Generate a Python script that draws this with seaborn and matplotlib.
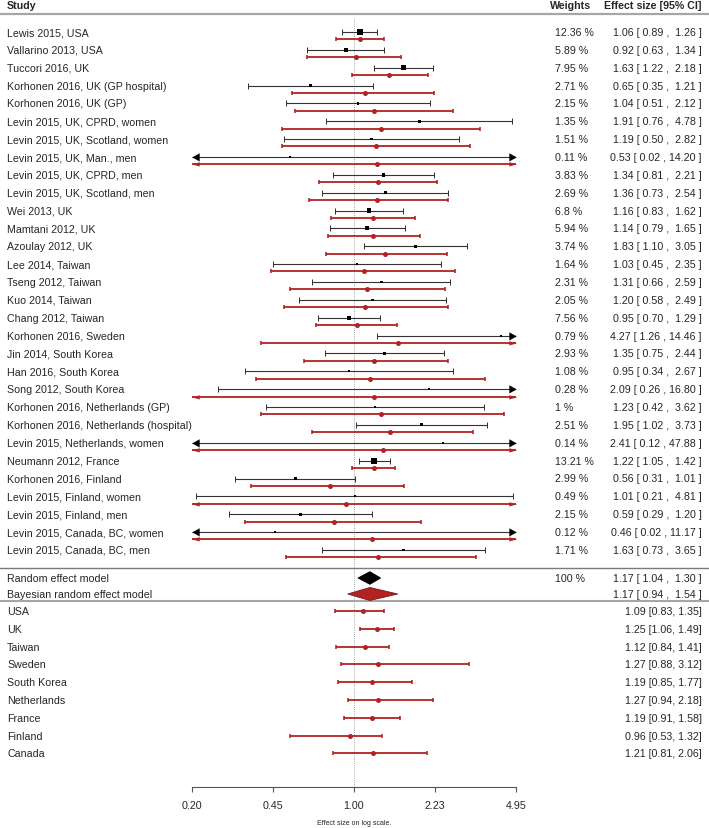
import numpy as np
import pandas as pd
import matplotlib
matplotlib.use("Agg")
import matplotlib.pyplot as plt
import seaborn as sns
from matplotlib.transforms import blended_transform_factory

# -----------------------------
# Data
# -----------------------------
studies = [
    "Lewis 2015, USA", "Vallarino 2013, USA", "Tuccori 2016, UK",
    "Korhonen 2016, UK (GP hospital)", "Korhonen 2016, UK (GP)",
    "Levin 2015, UK, CPRD, women", "Levin 2015, UK, Scotland, women",
    "Levin 2015, UK, Man., men", "Levin 2015, UK, CPRD, men",
    "Levin 2015, UK, Scotland, men", "Wei 2013, UK", "Mamtani 2012, UK",
    "Azoulay 2012, UK", "Lee 2014, Taiwan", "Tseng 2012, Taiwan",
    "Kuo 2014, Taiwan", "Chang 2012, Taiwan", "Korhonen 2016, Sweden",
    "Jin 2014, South Korea", "Han 2016, South Korea", "Song 2012, South Korea",
    "Korhonen 2016, Netherlands (GP)", "Korhonen 2016, Netherlands (hospital)",
    "Levin 2015, Netherlands, women", "Neumann 2012, France",
    "Korhonen 2016, Finland", "Levin 2015, Finland, women",
    "Levin 2015, Finland, men", "Levin 2015, Canada, BC, women",
    "Levin 2015, Canada, BC, men",
]
weights = [12.36, 5.89, 7.95, 2.71, 2.15, 1.35, 1.51, 0.11, 3.83, 2.69,
           6.8, 5.94, 3.74, 1.64, 2.31, 2.05, 7.56, 0.79, 2.93, 1.08,
           0.28, 1, 2.51, 0.14, 13.21, 2.99, 0.49, 2.15, 0.12, 1.71]
est = [1.06, 0.92, 1.63, 0.65, 1.04, 1.91, 1.19, 0.53, 1.34, 1.36,
       1.16, 1.14, 1.83, 1.03, 1.31, 1.20, 0.95, 4.27, 1.35, 0.95,
       2.09, 1.23, 1.95, 2.41, 1.22, 0.56, 1.01, 0.59, 0.46, 1.63]
lo = [0.89, 0.63, 1.22, 0.35, 0.51, 0.76, 0.50, 0.02, 0.81, 0.73,
      0.83, 0.79, 1.10, 0.45, 0.66, 0.58, 0.70, 1.26, 0.75, 0.34,
      0.26, 0.42, 1.02, 0.12, 1.05, 0.31, 0.21, 0.29, 0.02, 0.73]
hi = [1.26, 1.34, 2.18, 1.21, 2.12, 4.78, 2.82, 14.20, 2.21, 2.54,
      1.62, 1.65, 3.05, 2.35, 2.59, 2.49, 1.29, 14.46, 2.44, 2.67,
      16.80, 3.62, 3.73, 47.88, 1.42, 1.01, 4.81, 1.20, 11.17, 3.65]

# Bayesian (shrunken) study estimates, read off the red marks
bayes_est = [1.06, 1.02, 1.41, 1.11, 1.22, 1.30, 1.24, 1.25, 1.27, 1.26,
             1.21, 1.21, 1.36, 1.10, 1.14, 1.12, 1.03, 1.54, 1.22, 1.17,
             1.22, 1.30, 1.42, 1.33, 1.22, 0.79, 0.92, 0.82, 1.20, 1.27]
bayes_lo = [0.84, 0.63, 0.98, 0.54, 0.56, 0.49, 0.49, 0.15, 0.71, 0.64,
            0.80, 0.77, 0.76, 0.44, 0.53, 0.50, 0.69, 0.40, 0.61, 0.38,
            0.16, 0.40, 0.66, 0.15, 0.98, 0.36, 0.18, 0.34, 0.16, 0.51]
bayes_hi = [1.35, 1.59, 2.07, 2.21, 2.66, 3.48, 3.14, 10.5, 2.27, 2.54,
            1.82, 1.91, 2.51, 2.72, 2.46, 2.52, 1.53, 6.2, 2.53, 3.64,
            9.4, 4.41, 3.24, 11.2, 1.50, 1.64, 5.3, 1.93, 9.0, 3.35]

pooled_re = (1.17, 1.04, 1.30)
pooled_bayes = (1.17, 0.94, 1.54)

countries = ["USA", "UK", "Taiwan", "Sweden", "South Korea", "Netherlands",
             "France", "Finland", "Canada"]
c_est = [1.09, 1.25, 1.12, 1.27, 1.19, 1.27, 1.19, 0.96, 1.21]
c_lo = [0.83, 1.06, 0.84, 0.88, 0.85, 0.94, 0.91, 0.53, 0.81]
c_hi = [1.35, 1.49, 1.41, 3.12, 1.77, 2.18, 1.58, 1.32, 2.06]

tick_vals = np.exp([-1.6, -0.8, 0.0, 0.8, 1.6])

# -----------------------------
# Layout (pixel units, y grows downward)
# -----------------------------
W, H = 709, 829
RED = "#b22222"
DARK = "#333333"
X0, X1 = tick_vals[0], tick_vals[-1]
AX_BOTTOM = 788

df = pd.DataFrame({"study": studies, "w": weights, "est": est, "lo": lo, "hi": hi,
                   "b_est": bayes_est, "b_lo": bayes_lo, "b_hi": bayes_hi})
df["y"] = 33 + 17.86 * np.arange(len(df))
df["yb"] = df["y"] + 7.3
cdf = pd.DataFrame({"country": countries, "est": c_est, "lo": c_lo, "hi": c_hi})
cdf["y"] = 612 + 17.8 * np.arange(len(cdf))
y_re, y_bayes = 579, 595

sns.set_theme(style="white")
plt.rcParams["font.family"] = ["Liberation Sans", "DejaVu Sans"]
FS = 7.7

fig = plt.figure(figsize=(W / 100, H / 100), dpi=100)
ax = fig.add_axes([192 / W, (H - AX_BOTTOM) / H, 324 / W, AX_BOTTOM / H])
ax.set_xscale("log")

TRI_L = [(0, 0), (0.9, 0.5), (0.9, -0.5)]
TRI_R = [(0, 0), (-0.9, 0.5), (-0.9, -0.5)]
NAR_L = [(0, 0), (1, 0.28), (1, -0.28)]
NAR_R = [(0, 0), (-1, 0.28), (-1, -0.28)]


def draw_ci(y, l, h, color, lw, cap, big):
    a, b = max(l, X0), min(h, X1)
    ax.plot([a, b], [y, y], color=color, lw=lw, solid_capstyle="butt", zorder=2)
    for v, edge, out in ((l, X0, l < X0), (h, X1, h > X1)):
        if out:
            verts = (TRI_L if edge == X0 else TRI_R) if big else (NAR_L if edge == X0 else NAR_R)
            head = "black" if big else color
            ax.plot([edge], [y], marker=verts, ms=10, color=head, mec=head,
                    mew=0.3, zorder=3, clip_on=False)
        else:
            ax.plot([v], [y], marker="|", ms=cap, mew=lw * 0.9, color=color, zorder=2)


for r in df.itertuples():
    draw_ci(r.y, r.lo, r.hi, DARK, 0.8, 4.3, True)
    draw_ci(r.yb, r.b_lo, r.b_hi, RED, 1.3, 3.0, False)
for r in cdf.itertuples():
    draw_ci(r.y, r.lo, r.hi, RED, 1.3, 3.0, False)

sns.scatterplot(data=df, x="est", y="y", size="w", sizes=(1.5, 17), size_norm=(0, 13.21),
                marker="s", color="black", linewidth=0, legend=False, ax=ax, zorder=4)
sns.scatterplot(data=df, x="b_est", y="yb", color=RED, s=13, linewidth=0,
                legend=False, ax=ax, zorder=4)
sns.scatterplot(data=cdf, x="est", y="y", color=RED, s=13, linewidth=0,
                legend=False, ax=ax, zorder=4)

# pooled diamonds
for (e, l, h), y, half, fc, ec in ((pooled_re, y_re, 6.3, "black", "black"),
                                   (pooled_bayes, y_bayes, 6.5, RED, "#7a1515")):
    ax.fill([l, e, h, e], [y, y - half, y, y + half], facecolor=fc, edgecolor=ec,
            lw=0.6, zorder=4)

# reference line at 1
ax.plot([1, 1], [20, AX_BOTTOM], ls=(0, (1, 1.5)), color="#8a8a8a", lw=0.6, zorder=1)

ax.set_xlim(X0, X1)
ax.set_ylim(AX_BOTTOM, 0)
ax.set_xticks(tick_vals)
ax.set_xticklabels([f"{t:.2f}" for t in tick_vals], fontsize=FS)
ax.minorticks_off()
ax.set_yticks([])
ax.set_xlabel("")
ax.set_ylabel("")
for s in ("top", "left", "right"):
    ax.spines[s].set_visible(False)
ax.spines["bottom"].set_color("#555555")
ax.spines["bottom"].set_linewidth(0.8)
ax.tick_params(axis="x", direction="out", length=3.6, width=0.8, color="#555555",
               pad=6, bottom=True)
ax.patch.set_alpha(0)

fig.text(354 / W, 1 - 824 / H, "Effect size on log scale.", fontsize=5,
         ha="center", va="center")

# text columns
tr = blended_transform_factory(fig.transFigure, ax.transData)


def put(xpx, y, s, ha="left", bold=False):
    ax.text(xpx / W, y, s, transform=tr, ha=ha, va="center", fontsize=FS,
            fontweight="bold" if bold else "normal", clip_on=False)


put(7, 6, "Study", bold=True)
put(550, 6, "Weights", bold=True)
put(702, 6, "Effect size [95% CI]", ha="right", bold=True)

for r in df.itertuples():
    put(7, r.y, r.study)
    put(555, r.y, f"{r.w:g} %")
    put(702, r.y, f"{r.est:.2f} [ {r.lo:.2f} , {r.hi:5.2f} ]", ha="right")

put(7, y_re, "Random effect model")
put(555, y_re, "100 %")
put(702, y_re, f"{pooled_re[0]:.2f} [ {pooled_re[1]:.2f} ,  {pooled_re[2]:.2f} ]", ha="right")
put(7, y_bayes, "Bayesian random effect model")
put(702, y_bayes, f"{pooled_bayes[0]:.2f} [ {pooled_bayes[1]:.2f} ,  {pooled_bayes[2]:.2f} ]",
    ha="right")

for r in cdf.itertuples():
    put(7, r.y, r.country)
    put(702, r.y, f"{r.est:.2f} [{r.lo:.2f}, {r.hi:.2f}]", ha="right")

# separators across the full width
for y, lw, col in ((15, 1.6, "#a6a6a6"), (569, 1.0, "#7a7a7a"), (602, 1.5, "#a6a6a6")):
    ax.plot([0, 1], [y, y], transform=tr, color=col, lw=lw, clip_on=False, zorder=1)

fig.savefig("out.png", dpi=100)
